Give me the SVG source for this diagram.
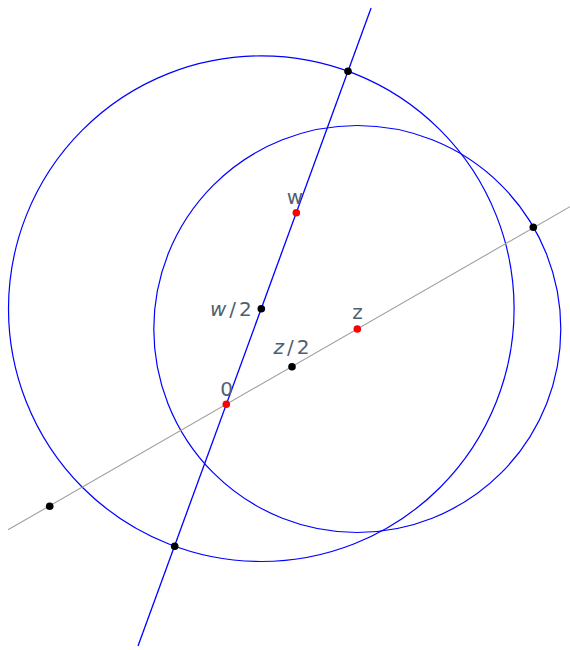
<svg xmlns="http://www.w3.org/2000/svg" width="570" height="650" viewBox="0 0 570 650">
<style>
.circ{fill:none;stroke:#0000ff;stroke-width:1.2}
.bl{stroke:#0000ff;stroke-width:1.3;fill:none}
.gr{stroke:#a0a0a0;stroke-width:1.1;fill:none}
.red{fill:#ff0000}
.blk{fill:#000000}
.lbl{font-family:"DejaVu Sans","Liberation Sans",sans-serif;font-size:20px;fill:#4e5f72}
.it{font-style:italic}
</style>
<rect width="570" height="650" fill="#ffffff"/>
<g id="connectors">
<circle class="circ" cx="261.3" cy="308.7" r="252.8"/>
<circle class="circ" cx="357.3" cy="329" r="203.5"/>
<line class="gr" x1="8" y1="529.8" x2="570" y2="206.7"/>
<line class="bl" x1="371.1" y1="8" x2="138" y2="646"/>
</g>
<g id="p0"><circle class="red" cx="226.3" cy="404.3" r="3.8"/><text class="lbl" x="226.7" y="395.8" text-anchor="middle" font-size="21">0</text></g>
<g id="pw"><circle class="red" cx="296.3" cy="212.7" r="3.8"/><text class="lbl" x="295" y="204.3" text-anchor="middle">w</text></g>
<g id="pz"><circle class="red" cx="357.3" cy="329" r="3.8"/><text class="lbl" x="357.5" y="318.7" text-anchor="middle">z</text></g>
<g id="pw2"><circle class="blk" cx="261.3" cy="308.7" r="3.8"/><text class="lbl" x="210" y="315.5" letter-spacing="3"><tspan class="it">w</tspan>/2</text></g>
<g id="pz2"><circle class="blk" cx="292" cy="366.7" r="3.8"/><text class="lbl" x="273.5" y="353.5" letter-spacing="3"><tspan class="it">z</tspan>/2</text></g>
<g id="pa"><circle class="blk" cx="348" cy="71.3" r="3.8"/></g>
<g id="pb"><circle class="blk" cx="174.7" cy="546.3" r="3.8"/></g>
<g id="pc"><circle class="blk" cx="533.3" cy="227.3" r="3.8"/></g>
<g id="pd"><circle class="blk" cx="49.7" cy="506.3" r="3.8"/></g>
</svg>
